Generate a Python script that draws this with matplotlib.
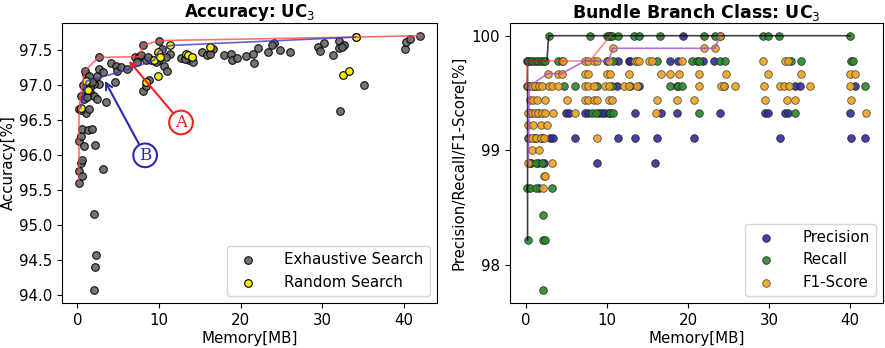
import matplotlib
matplotlib.use("Agg")
import matplotlib.pyplot as plt

# ---- left panel: accuracy vs memory ----
exh_mem = [0.2, 0.2, 0.6, 0.4, 0.6, 0.2, 0.4, 0.8, 0.6, 1.35, 1.8, 2.2, 3.2, 2.0, 2.3, 2.2, 2.0,
           0.2, 1.1, 1.4, 0.4, 0.8, 1.0, 0.7, 1.6, 2.0, 2.4, 3.5, 2.7, 2.0, 1.1, 0.9, 1.4, 2.4,
           2.7, 3.1, 2.6, 4.1, 4.7, 4.6, 4.9, 5.3, 6.1, 7.1, 7.6, 8.0, 7.8, 8.4, 9.0, 8.1, 8.4,
           8.8, 10.0, 10.4, 10.0, 10.6, 11.0, 11.4, 12.7, 13.7, 15.3, 15.9, 16.6, 18.0, 18.8,
           19.0, 19.5, 20.7, 21.5, 21.7, 22.1, 23.3, 24.1, 24.8, 26.0, 29.5, 29.7, 30.2, 31.3,
           32.1, 32.1, 32.7, 32.2, 35.1, 34.1, 40.1, 40.3, 40.7, 42.0, 7.3, 8.6, 9.6, 10.8,
           1.5, 1.8, 0.5, 1.2, 13.2, 14.2, 16.2, 32.4, 23.9]
exh_acc = [95.61, 95.77, 95.70, 95.89, 95.94, 96.21, 96.28, 96.13, 96.37, 96.36, 96.37, 96.15,
           95.80, 95.16, 94.58, 94.41, 94.07, 96.66, 96.61, 96.66, 96.85, 96.80, 96.95, 97.00,
           96.90, 96.85, 96.80, 96.76, 97.02, 97.02, 97.16, 97.21, 97.14, 97.14, 97.24, 97.19,
           97.40, 97.32, 97.28, 97.05, 97.21, 97.26, 97.24, 97.40, 97.41, 97.57, 97.43, 97.36,
           97.36, 96.92, 96.99, 97.07, 97.64, 97.52, 97.36, 97.28, 97.21, 97.45, 97.39, 97.36,
           97.48, 97.43, 97.52, 97.43, 97.45, 97.36, 97.39, 97.42, 97.45, 97.32, 97.53, 97.48,
           97.60, 97.51, 97.48, 97.55, 97.49, 97.60, 97.44, 97.64, 97.53, 97.57, 96.64, 97.00,
           97.69, 97.52, 97.62, 97.67, 97.71, 97.33, 97.40, 97.33, 97.40, 96.98, 97.05, 96.65,
           96.84, 97.38, 97.33, 97.45, 97.55, 97.57]

rnd_mem = [0.4, 1.1, 1.3, 8.4, 9.4, 9.9, 9.9, 10.1, 11.4, 13.3, 13.5, 14.1, 16.3, 32.5, 33.3, 34.1]
rnd_acc = [96.68, 97.06, 96.93, 97.05, 97.36, 97.48, 97.14, 97.40, 97.57, 97.45, 97.43, 97.40,
           97.55, 97.15, 97.21, 97.69]

front_a_mem = [0.2, 0.2, 0.4, 0.9, 2.6, 7.6, 8.0, 10.0, 34.1, 42.0]
front_a_acc = [95.61, 96.66, 96.85, 97.21, 97.40, 97.41, 97.57, 97.64, 97.69, 97.71]
front_b_mem = [0.4, 1.1, 3.0, 6.0, 9.4, 9.9, 11.4, 34.1]
front_b_acc = [96.68, 97.06, 97.12, 97.22, 97.36, 97.48, 97.57, 97.69]

# ---- right panel: precision / recall / f1 per level ----
prec_levels = [100, 99.78, 99.56, 99.33, 99.11, 98.89, 98.67]
prec_mem = [
    [10.4, 19.4, 24.0],
    [0.1, 0.3, 10.0, 11.4, 12.7, 12.9, 17.8, 18.8, 21.9, 23.2],
    [0.1, 0.3, 1.0, 11.2, 12.9, 14.0, 33.2, 33.8, 40.6, 24.4],
    [0.5, 1.5, 4.9, 5.3, 7.3, 7.7, 9.0, 9.4, 9.8, 10.2, 13.5, 16.7, 18.7, 24.0, 29.5, 29.9,
     32.0, 32.4, 40.0],
    [0.3, 1.0, 2.0, 3.0, 3.4, 6.1, 11.4, 13.5, 16.2, 20.7, 31.3, 40.1, 41.9],
    [0.5, 1.5, 2.2, 8.8, 15.9],
    [1.6],
]
rec_levels = [100, 99.78, 99.56, 99.33, 99.11, 98.89, 98.67, 98.44, 98.22, 97.78]
rec_mem = [
    [2.8, 7.9, 10.0, 10.2, 10.6, 11.4, 13.3, 13.9, 16.6, 22.0, 23.3, 29.2, 29.9, 31.2, 40.0],
    [0.3, 0.6, 0.9, 1.2, 1.5, 1.8, 2.1, 2.4, 4.0, 4.4, 10.8, 16.2, 20.5, 21.1, 21.4, 24.0,
     24.6, 32.7, 33.9, 40.1, 40.4],
    [0.4, 1.0, 1.4, 4.7, 6.1, 8.8, 10.6, 17.8, 18.6, 18.8, 19.2, 41.9],
    [8.1, 8.6, 10.4, 10.8, 21.3, 33.2],
    [1.2, 1.8],
    [0.6, 1.2, 2.0],
    [0.1, 0.5, 1.2, 3.2],
    [2.1],
    [0.2, 2.1, 2.4],
    [2.1],
]
f1_levels = [100, 99.89, 99.78, 99.67, 99.56, 99.44, 99.33, 99.22, 99.11, 99.0, 98.89, 98.78, 98.67]
f1_mem = [
    [24.0],
    [10.7, 22.0, 23.3],
    [4.6, 7.3, 7.7, 8.4, 8.8, 10.2, 13.5, 13.7, 14.0, 15.2, 15.6, 19.2, 29.3, 32.0, 32.3],
    [2.7, 4.0, 4.4, 7.3, 7.7, 10.0, 10.4, 12.7, 16.7, 17.8, 18.9, 21.4, 24.7, 29.9, 33.9,
     40.0, 40.6],
    [0.3, 0.7, 1.1, 1.6, 2.0, 2.8, 3.2, 4.0, 7.3, 7.7, 8.4, 9.8, 10.2, 12.1, 12.7, 13.7,
     21.4, 24.1, 24.4, 25.8, 29.4, 31.3, 31.9, 32.5, 35.1, 40.0],
    [0.5, 0.9, 1.4, 2.4, 5.1, 7.3, 7.7, 8.4, 8.8, 10.2, 10.6, 16.2, 18.7, 20.7, 29.5, 32.2,
     33.2, 40.1],
    [0.3, 0.7, 1.1, 1.5, 2.0, 2.4, 3.4, 6.1, 16.0, 42.0],
    [0.3, 0.9, 1.8, 2.6],
    [0.4, 0.8, 1.3, 1.8, 2.2, 8.8],
    [0.7, 1.6],
    [0.3, 3.2],
    [2.2, 2.4],
    [2.1],
]

rec_front_mem = [0.2, 0.2, 2.6, 2.8, 40.0]
rec_front_val = [98.22, 99.78, 99.78, 100, 100]
prec_front_mem = [0.1, 0.2, 7.9, 10.4]
prec_front_val = [99.56, 99.78, 99.78, 100]
f1_front_mem = [0.3, 0.4, 2.7, 4.4, 7.3, 10.2, 10.7, 23.3, 24.0]
f1_front_val = [98.89, 99.56, 99.67, 99.67, 99.78, 99.78, 99.89, 99.89, 100]


def flatten(levels, mems):
    xs, ys = [], []
    for lv, row in zip(levels, mems):
        xs += row
        ys += [lv] * len(row)
    return xs, ys


fig = plt.figure(figsize=(8.85, 3.48), dpi=100)
ax1 = fig.add_axes([0.070, 0.129, 0.424, 0.805])
ax2 = fig.add_axes([0.576, 0.129, 0.422, 0.805])

# left
ax1.scatter(exh_mem, exh_acc, s=30, c="#666666", edgecolors="black", linewidths=0.8,
            alpha=0.9, label="Exhaustive Search", zorder=2)
ax1.scatter(rnd_mem, rnd_acc, s=30, c="#f5f000", edgecolors="black", linewidths=0.8,
            label="Random Search", zorder=3)
ax1.plot(front_a_mem, front_a_acc, color="#ff4040", lw=1.2, alpha=0.75, zorder=4)
ax1.plot(front_b_mem, front_b_acc, color="#3a3ac0", lw=1.2, alpha=0.8, zorder=4)
ax1.annotate("A", xy=(6.1, 97.38), xytext=(12.7, 96.47), color="#ee2222", fontsize=12,
             family="DejaVu Serif", ha="center", va="center",
             bbox=dict(boxstyle="circle,pad=0.2", fc="white", ec="#ee2222", lw=1.5),
             arrowprops=dict(arrowstyle="->", color="#ee2222", lw=1.5, shrinkA=0))
ax1.annotate("B", xy=(3.2, 97.1), xytext=(8.3, 96.0), color="#2a2ab0", fontsize=12,
             family="DejaVu Serif", ha="center", va="center",
             bbox=dict(boxstyle="circle,pad=0.2", fc="white", ec="#2a2ab0", lw=1.5),
             arrowprops=dict(arrowstyle="->", color="#2a2ab0", lw=1.5, shrinkA=0))
ax1.set_yticks([94.0, 94.5, 95.0, 95.5, 96.0, 96.5, 97.0, 97.5])
ax1.set_xticks([0, 10, 20, 30, 40])
ax1.set_xlabel("Memory[MB]", fontsize=10.8, labelpad=2)
ax1.set_ylabel("Accuracy[%]", fontsize=10.8, labelpad=2)
ax1.set_title("Accuracy: UC$_3$", fontsize=12, fontweight="bold", pad=3)
ax1.legend(loc="lower right", fontsize=10.8, handletextpad=1.4)

# right
px, py = flatten(prec_levels, prec_mem)
rx, ry = flatten(rec_levels, rec_mem)
fx, fy = flatten(f1_levels, f1_mem)
ax2.scatter(px, py, s=30, c="#2e2e9a", edgecolors="#222222", linewidths=0.6, alpha=0.9,
            label="Precision", zorder=2)
ax2.scatter(rx, ry, s=30, c="#2a8a2a", edgecolors="#222222", linewidths=0.6, alpha=0.9,
            label="Recall", zorder=2)
ax2.scatter(fx, fy, s=30, c="#f2a31c", edgecolors="#444444", linewidths=0.6, alpha=0.9,
            label="F1-Score", zorder=2)
ax2.plot(rec_front_mem, rec_front_val, color="black", lw=1.2, alpha=0.75, zorder=3)
ax2.plot(prec_front_mem, prec_front_val, color="#ff4040", lw=1.2, alpha=0.6, zorder=3)
ax2.plot(f1_front_mem, f1_front_val, color="#a050c8", lw=1.2, alpha=0.8, zorder=3)
ax2.set_yticks([98, 99, 100])
ax2.set_xticks([0, 10, 20, 30, 40])
ax2.set_xlabel("Memory[MB]", fontsize=10.8, labelpad=2)
ax2.set_ylabel("Precision/Recall/F1-Score[%]", fontsize=10.8, labelpad=4)
ax2.set_title("Bundle Branch Class: UC$_3$", fontsize=12.5, fontweight="bold", pad=3)
ax2.legend(loc="lower right", fontsize=10.8, handletextpad=1.4)

for ax in (ax1, ax2):
    ax.tick_params(labelsize=10.8)

fig.savefig("out.png", dpi=100)
